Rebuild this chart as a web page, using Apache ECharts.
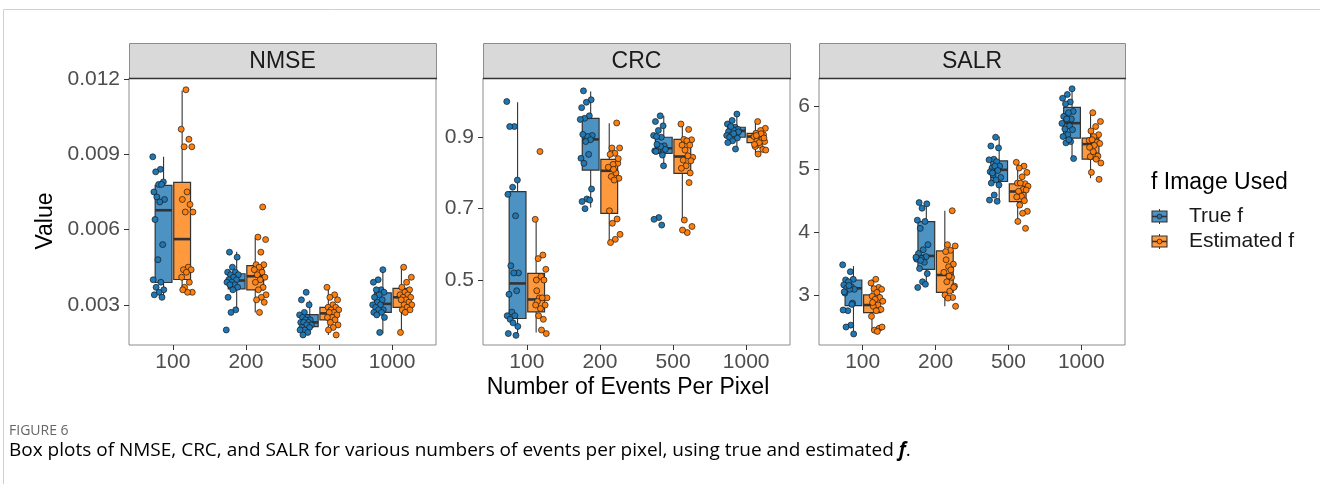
<!DOCTYPE html>
<html>
<head>
<meta charset="utf-8">
<title>Box plots of NMSE, CRC and SALR</title>
<script src="https://cdn.jsdelivr.net/npm/echarts@6/dist/echarts.min.js"></script>
<style>
  html, body { margin: 0; padding: 0; background: #ffffff; }
  #chart { width: 1320px; height: 484px; }
</style>
</head>
<body>
<div id="chart"></div>
<script>
// ---------------- data ----------------
const categories = ['100', '200', '500', '1000'];
const metrics = ['NMSE', 'CRC', 'SALR'];
const groups = ['True f', 'Estimated f'];

// box summaries per category: [lower whisker, Q1, median, Q3, upper whisker]
const nmseTrueBox = [
  [0.0033, 0.00389, 0.00677, 0.00776, 0.0089],
  [0.00274, 0.00364, 0.00397, 0.00424, 0.00512],
  [0.00184, 0.00213, 0.0023, 0.00261, 0.00317],
  [0.00186, 0.0027, 0.00304, 0.00348, 0.0044]
];
const nmseEstBox = [
  [0.0035, 0.00401, 0.00562, 0.00788, 0.01154],
  [0.0027, 0.0036, 0.00414, 0.00456, 0.00566],
  [0.0018, 0.0024, 0.00266, 0.0029, 0.0037],
  [0.0019, 0.0029, 0.0033, 0.00366, 0.0045]
];
const crcTrueBox = [
  [0.3455, 0.3923, 0.4905, 0.7476, 0.998],
  [0.703, 0.808, 0.894, 0.953, 1.028],
  [0.82, 0.855, 0.869, 0.9, 0.96],
  [0.869, 0.9, 0.918, 0.928, 0.963]
];
const crcEstBox = [
  [0.353, 0.411, 0.4456, 0.5185, 0.673],
  [0.612, 0.687, 0.806, 0.838, 0.939],
  [0.668, 0.799, 0.846, 0.894, 0.939],
  [0.855, 0.885, 0.902, 0.911, 0.944]
];
const salrTrueBox = [
  [2.378, 2.83, 3.106, 3.238, 3.46],
  [3.175, 3.408, 3.621, 4.168, 4.476],
  [4.476, 4.805, 4.991, 5.134, 5.52],
  [5.166, 5.495, 5.734, 5.984, 6.276]
];
const salrEstBox = [
  [2.43, 2.718, 2.84, 3.0, 3.25],
  [2.82, 3.04, 3.318, 3.70, 4.34],
  [4.168, 4.486, 4.646, 4.768, 5.08],
  [4.858, 5.16, 5.40, 5.495, 5.90]
];

// individual runs per category
const nmseTruePts = [
  [0.0089, 0.0084, 0.0083, 0.0079, 0.0078, 0.0075, 0.0078, 0.0073, 0.0072, 0.0071, 0.0064, 0.0054, 0.0048, 0.0040, 0.0039, 0.0037, 0.0036, 0.0035, 0.0034, 0.0033],
  [0.0051, 0.0049, 0.0045, 0.0043, 0.0043, 0.0042, 0.0042, 0.0041, 0.0040, 0.0040, 0.0039, 0.0039, 0.0038, 0.0038, 0.0037, 0.0036, 0.0033, 0.0028, 0.0027, 0.0020],
  [0.0035, 0.0032, 0.0030, 0.0027, 0.0026, 0.0025, 0.0025, 0.0024, 0.0024, 0.0023, 0.0023, 0.0023, 0.0022, 0.0022, 0.0021, 0.0021, 0.0020, 0.0020, 0.0019, 0.0018],
  [0.0044, 0.0040, 0.0039, 0.0036, 0.0036, 0.0035, 0.0034, 0.0033, 0.0032, 0.0031, 0.0030, 0.0030, 0.0029, 0.0028, 0.0028, 0.0027, 0.0027, 0.0026, 0.0025, 0.0019]
];
const nmseEstPts = [
  [0.01157, 0.0100, 0.0096, 0.0093, 0.0093, 0.0075, 0.0072, 0.0070, 0.0067, 0.0067, 0.0045, 0.0044, 0.0044, 0.0043, 0.0041, 0.0039, 0.0037, 0.0035, 0.0035, 0.0036],
  [0.0069, 0.0057, 0.0056, 0.0051, 0.0046, 0.0046, 0.0045, 0.0044, 0.0043, 0.0042, 0.0041, 0.0040, 0.0039, 0.0037, 0.0036, 0.0034, 0.0033, 0.0032, 0.0031, 0.0027],
  [0.0037, 0.0034, 0.0033, 0.0032, 0.0030, 0.0029, 0.0029, 0.0028, 0.0028, 0.0027, 0.0027, 0.0026, 0.0025, 0.0025, 0.0024, 0.0023, 0.0022, 0.0021, 0.0020, 0.0018],
  [0.0045, 0.0041, 0.0039, 0.0037, 0.0036, 0.0035, 0.0034, 0.0034, 0.0033, 0.0033, 0.0032, 0.0032, 0.0031, 0.0030, 0.0030, 0.0029, 0.0028, 0.0028, 0.0027, 0.0019]
];
const crcTruePts = [
  [1.0, 0.93, 0.93, 0.78, 0.76, 0.74, 0.68, 0.54, 0.52, 0.52, 0.46, 0.47, 0.41, 0.40, 0.40, 0.39, 0.37, 0.38, 0.35, 0.345],
  [1.03, 1.005, 0.998, 0.983, 0.96, 0.953, 0.905, 0.902, 0.908, 0.893, 0.888, 0.841, 0.852, 0.827, 0.755, 0.727, 0.72, 0.724, 0.70, 0.95],
  [0.96, 0.944, 0.932, 0.919, 0.905, 0.90, 0.902, 0.876, 0.866, 0.862, 0.85, 0.862, 0.866, 0.874, 0.86, 0.82, 0.675, 0.67, 0.654, 0.88],
  [0.965, 0.947, 0.937, 0.928, 0.928, 0.922, 0.921, 0.916, 0.911, 0.907, 0.905, 0.90, 0.90, 0.898, 0.89, 0.885, 0.867, 0.93, 0.915, 0.91]
];
const crcEstPts = [
  [0.86, 0.67, 0.57, 0.56, 0.53, 0.51, 0.50, 0.50, 0.45, 0.45, 0.45, 0.44, 0.43, 0.42, 0.43, 0.39, 0.40, 0.35, 0.36, 0.47],
  [0.94, 0.87, 0.87, 0.855, 0.852, 0.827, 0.824, 0.816, 0.80, 0.79, 0.785, 0.78, 0.694, 0.671, 0.659, 0.628, 0.614, 0.605, 0.84, 0.81],
  [0.937, 0.922, 0.894, 0.893, 0.89, 0.878, 0.878, 0.864, 0.844, 0.848, 0.836, 0.834, 0.82, 0.813, 0.773, 0.668, 0.65, 0.633, 0.64, 0.80],
  [0.944, 0.925, 0.919, 0.911, 0.907, 0.902, 0.902, 0.894, 0.89, 0.888, 0.878, 0.874, 0.866, 0.853, 0.864, 0.91, 0.905, 0.898, 0.885, 0.88]
];
const salrTruePts = [
  [3.48, 3.37, 3.24, 3.25, 3.21, 3.16, 3.13, 3.11, 3.09, 3.09, 3.03, 2.87, 2.75, 2.76, 2.52, 2.49, 2.38, 3.15, 3.05, 2.85],
  [4.47, 4.45, 4.38, 4.19, 4.17, 4.06, 3.80, 3.72, 3.66, 3.61, 3.58, 3.57, 3.52, 3.42, 3.34, 3.21, 3.12, 3.17, 3.55, 3.60],
  [5.51, 5.37, 5.34, 5.16, 5.15, 5.12, 5.02, 5.05, 5.05, 4.96, 4.98, 4.91, 4.87, 4.83, 4.78, 4.75, 4.59, 4.51, 4.49, 4.94],
  [6.28, 6.19, 6.13, 6.07, 6.04, 5.92, 5.90, 5.84, 5.80, 5.80, 5.73, 5.69, 5.64, 5.63, 5.55, 5.52, 5.44, 5.42, 5.17, 5.47]
];
const salrEstPts = [
  [3.25, 3.19, 3.12, 3.10, 3.09, 3.04, 2.98, 2.96, 2.93, 2.90, 2.84, 2.82, 2.77, 2.75, 2.66, 2.47, 2.44, 2.49, 2.42, 2.88],
  [4.34, 3.80, 3.78, 3.71, 3.69, 3.49, 3.45, 3.36, 3.28, 3.21, 3.14, 3.06, 3.0, 2.96, 2.95, 2.82, 3.40, 3.56, 3.12, 3.30],
  [5.11, 5.05, 5.02, 4.95, 4.88, 4.78, 4.77, 4.78, 4.73, 4.68, 4.65, 4.67, 4.57, 4.56, 4.50, 4.43, 4.33, 4.30, 4.17, 4.06],
  [5.90, 5.76, 5.68, 5.61, 5.55, 5.52, 5.46, 5.43, 5.47, 5.41, 5.23, 5.20, 5.21, 5.28, 5.10, 5.16, 4.95, 4.84, 5.38, 5.35]
];

// y-axis ticks per facet
const nmseTicks = [0.003, 0.006, 0.009, 0.012];
const crcTicks = [0.5, 0.7, 0.9];
const salrTicks = [3, 4, 5, 6];

// ---------------- layout & style ----------------
const FONT = 'Liberation Sans';
const PANEL_TOP = 78, PANEL_H = 267, STRIP_TOP = 43;
const panelLeft = [129, 483, 819];
const panelWidth = [307, 307, 306];
const yRange = [[0.0014, 0.01204], [0.318, 1.066], [2.204, 6.452]];
const yDecimals = [3, 1, 0];

const boxFill = ['#4c92c3', '#ff993e'];
const pointFill = ['#1f77b4', '#ff7f0e'];
const LINE = '#333333';
const BOX_W = 0.23, BOX_DODGE = 0.127, PT_DODGE = 0.19, JIT_W = 0.085;

const facets = [
  { box: [nmseTrueBox, nmseEstBox], pts: [nmseTruePts, nmseEstPts], ticks: nmseTicks },
  { box: [crcTrueBox, crcEstBox], pts: [crcTruePts, crcEstPts], ticks: crcTicks },
  { box: [salrTrueBox, salrEstBox], pts: [salrTruePts, salrEstPts], ticks: salrTicks }
];

// deterministic spread of points inside the dodge slot
function jitter(i, c, g) {
  const t = (i * 0.618034 + c * 0.291 + g * 0.437) % 1;
  return (t * 2 - 1) * JIT_W;
}

function renderBox(params, api) {
  const x = api.value(0);
  const lo = api.coord([x, api.value(1)]);
  const q1 = api.coord([x, api.value(2)]);
  const md = api.coord([x, api.value(3)]);
  const q3 = api.coord([x, api.value(4)]);
  const hi = api.coord([x, api.value(5)]);
  const half = api.size([BOX_W, 0])[0] / 2;
  const fill = api.visual('color');
  return {
    type: 'group',
    children: [
      { type: 'line', shape: { x1: lo[0], y1: lo[1], x2: q1[0], y2: q1[1] }, style: { stroke: LINE, lineWidth: 1.1 } },
      { type: 'line', shape: { x1: q3[0], y1: q3[1], x2: hi[0], y2: hi[1] }, style: { stroke: LINE, lineWidth: 1.1 } },
      { type: 'rect', shape: { x: q3[0] - half, y: q3[1], width: half * 2, height: q1[1] - q3[1] },
        style: { fill: fill, stroke: LINE, lineWidth: 1.2 } },
      { type: 'line', shape: { x1: md[0] - half, y1: md[1], x2: md[0] + half, y2: md[1] }, style: { stroke: LINE, lineWidth: 2.6 } }
    ]
  };
}

const grids = [], xAxes = [], yAxes = [], series = [], graphics = [];

facets.forEach((f, p) => {
  grids.push({
    left: panelLeft[p], top: PANEL_TOP, width: panelWidth[p], height: PANEL_H,
    show: true, borderColor: '#8c8c8c', borderWidth: 1, backgroundColor: '#ffffff'
  });
  xAxes.push({
    type: 'value', gridIndex: p, min: 0.4, max: 4.6,
    axisLine: { show: false },
    splitLine: { show: false },
    axisTick: { show: true, customValues: [1, 2, 3, 4], length: 5, lineStyle: { color: LINE, width: 1 } },
    axisLabel: {
      customValues: [1, 2, 3, 4], margin: 7,
      formatter: v => categories[Math.round(v) - 1],
      fontFamily: FONT, fontSize: 21, color: '#4d4d4d'
    }
  });
  yAxes.push({
    type: 'value', gridIndex: p, min: yRange[p][0], max: yRange[p][1],
    axisLine: { show: false },
    splitLine: { show: false },
    axisTick: { show: true, customValues: f.ticks, length: 5, lineStyle: { color: LINE, width: 1 } },
    axisLabel: {
      customValues: f.ticks, margin: 9,
      formatter: v => v.toFixed(yDecimals[p]),
      fontFamily: FONT, fontSize: 21, color: '#4d4d4d'
    }
  });

  // boxes
  [0, 1].forEach(g => {
    const data = f.box[g].map((s, c) => [c + 1 + (g === 0 ? -BOX_DODGE : BOX_DODGE)].concat(s));
    series.push({
      type: 'custom', name: groups[g], xAxisIndex: p, yAxisIndex: p,
      itemStyle: { color: boxFill[g] },
      encode: { x: 0, y: [1, 2, 3, 4, 5] },
      renderItem: renderBox, data: data, z: 2, silent: true
    });
  });
  // jittered runs
  [0, 1].forEach(g => {
    const data = [];
    f.pts[g].forEach((vals, c) => {
      vals.forEach((v, i) => {
        data.push([c + 1 + (g === 0 ? -PT_DODGE : PT_DODGE) + jitter(i, c, g), v]);
      });
    });
    series.push({
      type: 'scatter', name: groups[g] + ' runs', xAxisIndex: p, yAxisIndex: p,
      symbol: 'circle', symbolSize: 6,
      itemStyle: { color: pointFill[g], borderColor: '#1a1a1a', borderWidth: 0.7, opacity: 1 },
      data: data, z: 3, silent: true
    });
  });

  // facet strip
  graphics.push({
    type: 'rect', shape: { x: panelLeft[p] + 0.5, y: STRIP_TOP + 0.5, width: panelWidth[p], height: PANEL_TOP - STRIP_TOP },
    style: { fill: '#d9d9d9', stroke: '#8c8c8c', lineWidth: 1 }, z: 1
  });
  graphics.push({
    type: 'line', shape: { x1: panelLeft[p], y1: PANEL_TOP + 0.5, x2: panelLeft[p] + panelWidth[p] + 1, y2: PANEL_TOP + 0.5 },
    style: { stroke: '#333333', lineWidth: 1.4 }, z: 5
  });
  graphics.push({
    type: 'text', x: panelLeft[p] + panelWidth[p] / 2, y: (STRIP_TOP + PANEL_TOP) / 2 + 1,
    style: { text: metrics[p], font: '23px ' + FONT, fill: '#1a1a1a', align: 'center', verticalAlign: 'middle' }, z: 5
  });
});

// axis titles
graphics.push({
  type: 'text', x: 46, y: 221, rotation: Math.PI / 2,
  style: { text: 'Value', font: '23px ' + FONT, fill: '#000000', align: 'center', verticalAlign: 'middle' }
});
graphics.push({
  type: 'text', x: 628, y: 388,
  style: { text: 'Number of Events Per Pixel', font: '23px ' + FONT, fill: '#000000', align: 'center', verticalAlign: 'middle' }
});

// legend
const legendY = [216.5, 241.5];
graphics.push({
  type: 'text', x: 1151, y: 182.5,
  style: { text: 'f Image Used', font: '23px ' + FONT, fill: '#000000', align: 'left', verticalAlign: 'middle' }
});
groups.forEach((name, g) => {
  const cy = legendY[g], cx = 1159.5;
  graphics.push({ type: 'line', shape: { x1: cx, y1: cy - 7.5, x2: cx, y2: cy + 7.5 }, style: { stroke: LINE, lineWidth: 1 } });
  graphics.push({ type: 'rect', shape: { x: cx - 7.5, y: cy - 5.5, width: 15, height: 11 }, style: { fill: boxFill[g], stroke: LINE, lineWidth: 1.1 } });
  graphics.push({ type: 'line', shape: { x1: cx - 7.5, y1: cy, x2: cx + 7.5, y2: cy }, style: { stroke: LINE, lineWidth: 1.6 } });
  graphics.push({ type: 'circle', shape: { cx: cx, cy: cy, r: 2.4 }, style: { fill: pointFill[g], stroke: '#1a1a1a', lineWidth: 0.7 }, z: 2 });
  graphics.push({
    type: 'text', x: 1189, y: cy,
    style: { text: name, font: '21px ' + FONT, fill: '#1a1a1a', align: 'left', verticalAlign: 'middle' }
  });
});

// page frame
graphics.push({ type: 'line', shape: { x1: 3.5, y1: 9.5, x2: 1320, y2: 9.5 }, style: { stroke: '#d0d0d0', lineWidth: 1 } });
graphics.push({ type: 'line', shape: { x1: 3.5, y1: 9.5, x2: 3.5, y2: 484 }, style: { stroke: '#d0d0d0', lineWidth: 1 } });

// figure caption
graphics.push({
  type: 'text', x: 9, y: 431,
  style: { text: 'FIGURE 6', font: '14px "Open Sans"', fill: '#666666', align: 'left', verticalAlign: 'middle' }
});
graphics.push({
  type: 'text', x: 9, y: 451,
  style: {
    text: '{n|Box plots of NMSE, CRC, and SALR for various numbers of events per pixel, using true and estimated }{b|f}{n|.}',
    align: 'left', verticalAlign: 'middle',
    rich: {
      n: { fontFamily: 'Open Sans', fontSize: 19, color: '#666666' },
      b: { fontFamily: 'Open Sans', fontSize: 19, color: '#333333', fontWeight: 'bold', fontStyle: 'italic' }
    }
  }
});

const chart = echarts.init(document.getElementById('chart'), null, { renderer: 'canvas' });
chart.setOption({
  animation: false,
  backgroundColor: '#ffffff',
  grid: grids,
  xAxis: xAxes,
  yAxis: yAxes,
  series: series,
  graphic: { elements: graphics }
});
</script>
</body>
</html>
